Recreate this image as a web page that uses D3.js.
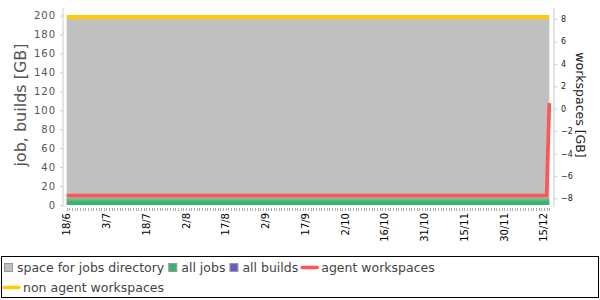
<!DOCTYPE html>
<html>
<head>
<meta charset="utf-8">
<script src="https://cdn.jsdelivr.net/npm/d3@7"></script>
<style>
body { margin: 0; background: #fff; }
text { font-family: "DejaVu Sans", sans-serif; }
</style>
</head>
<body>
<script>
const width = 600;
const height = 300;

// x labels, one every 15 samples
const dateLabels = ["18/6","3/7","18/7","2/8","17/8","2/9","17/9","2/10","16/10","31/10","15/11","30/11","15/12"];
const labelStep = 15;
const sampleCount = 183;

// series as [sample index, GB]
const jobsDirSpace = [[0, 196.3], [182, 196.3]];
const allJobs = [[0, 5.8], [182, 5.8]];
const allBuilds = [[0, 0], [182, 0]];
const agentWorkspaces = [[0, 9.8], [181, 9.8], [182, 107.5]];
const nonAgentWorkspaces = [[0, 198.4], [182, 198.4]];

const leftTicks = [0, 20, 40, 60, 80, 100, 120, 140, 160, 180, 200];
const rightTicks = [-8, -6, -4, -2, 0, 2, 4, 6, 8];

const legendNames = ["space for jobs directory", "all jobs", "all builds", "agent workspaces", "non agent workspaces"];
const legendColors = ["#c0c0c0", "#3cb371", "#6a5acd", "#ff5555", "#ffcc00"];
const legendKinds = ["box", "box", "box", "line", "line"];

const svg = d3.select("body")
    .append("svg")
    .attr("width", width)
    .attr("height", height);

const xScale = d3.scaleLinear()
    .domain([0, sampleCount - 1])
    .range([66.7, 549.3]);

const yLeft = d3.scaleLinear()
    .domain([0, 200])
    .range([205, 15.5]);

const yRight = d3.scaleLinear()
    .domain([-8, 8])
    .range([198.3, 19]);

const plotTop = 8, plotBottom = 207;
const leftX = 63, rightX = 554;

// areas
const area = d3.area()
    .x(d => xScale(d[0]))
    .y0(yLeft(0))
    .y1(d => yLeft(d[1]));

const line = d3.line()
    .x(d => xScale(d[0]))
    .y(d => yLeft(d[1]));

svg.append("path")
    .datum(jobsDirSpace)
    .attr("d", area)
    .attr("fill", "#c0c0c0");

svg.append("path")
    .datum(allJobs)
    .attr("d", area)
    .attr("fill", "#3cb371");

svg.append("path")
    .datum(allJobs)
    .attr("d", line)
    .attr("fill", "none")
    .attr("stroke", "#62c08a")
    .attr("stroke-width", 2.4);

svg.append("path")
    .datum(allBuilds)
    .attr("d", area)
    .attr("fill", "#6a5acd");

// lines
svg.append("path")
    .datum(agentWorkspaces)
    .attr("d", line)
    .attr("fill", "none")
    .attr("stroke", "#ff5555")
    .attr("stroke-width", 3.7);

svg.append("path")
    .datum(nonAgentWorkspaces)
    .attr("d", line)
    .attr("fill", "none")
    .attr("stroke", "#ffcc00")
    .attr("stroke-width", 4);

// axis lines
svg.append("line")
    .attr("x1", leftX).attr("x2", leftX)
    .attr("y1", plotTop).attr("y2", plotBottom)
    .attr("stroke", "#ccc");

svg.append("line")
    .attr("x1", rightX).attr("x2", rightX)
    .attr("y1", plotTop).attr("y2", plotBottom)
    .attr("stroke", "#ccc");

// left axis
const leftAxis = svg.append("g")
    .attr("transform", `translate(${leftX},0)`)
    .call(d3.axisLeft(yLeft).tickValues(leftTicks).tickSize(3).tickPadding(4));
leftAxis.select(".domain").remove();
leftAxis.selectAll(".tick line").attr("stroke", "#ccc");
leftAxis.selectAll(".tick text")
    .attr("font-size", 10)
    .attr("letter-spacing", 1)
    .attr("fill", "#555")
    .attr("font-family", "DejaVu Sans");

// right axis
const rightAxis = svg.append("g")
    .attr("transform", `translate(${rightX},0)`)
    .call(d3.axisRight(yRight).tickValues(rightTicks).tickSize(3).tickPadding(4));
rightAxis.select(".domain").remove();
rightAxis.selectAll(".tick line").attr("stroke", "#ccc");
rightAxis.selectAll(".tick text")
    .attr("font-size", 8)
    .attr("fill", "#222")
    .attr("font-family", "DejaVu Sans");

// x minor ticks, one per sample
svg.append("g")
    .selectAll("line")
    .data(d3.range(sampleCount))
    .join("line")
    .attr("x1", d => Math.round(xScale(d)) + 0.5)
    .attr("x2", d => Math.round(xScale(d)) + 0.5)
    .attr("y1", 208)
    .attr("y2", 211)
    .attr("stroke", "#aaa");

// x labels
svg.append("g")
    .selectAll("text")
    .data(dateLabels)
    .join("text")
    .attr("transform", (d, i) => `translate(${xScale(i * labelStep)},213) rotate(-90)`)
    .attr("text-anchor", "end")
    .attr("dy", "0.35em")
    .attr("font-size", 10)
    .attr("fill", "#000")
    .text(d => d);

// axis titles
svg.append("text")
    .attr("transform", "translate(20,105) rotate(-90)")
    .attr("text-anchor", "middle")
    .attr("dy", "0.35em")
    .attr("font-size", 16)
    .attr("fill", "#555")
    .text("job, builds [GB]");

svg.append("text")
    .attr("transform", "translate(580,105) rotate(90)")
    .attr("text-anchor", "middle")
    .attr("dy", "0.35em")
    .attr("font-size", 12.5)
    .attr("fill", "#222")
    .text("workspaces [GB]");

// legend
const legend = svg.append("g");
legend.append("rect")
    .attr("x", 1.5).attr("y", 256.5)
    .attr("width", 597).attr("height", 41)
    .attr("fill", "#fff")
    .attr("stroke", "#000");

let lx = 3;
let ly = 267.5;
legendNames.forEach((name, i) => {
    const g = legend.append("g");
    const txt = g.append("text")
        .attr("font-size", 12.5)
        .attr("fill", "#444")
        .text(name);
    const swatchW = legendKinds[i] === "box" ? 14 : 20;
    const itemW = swatchW + txt.node().getComputedTextLength();
    if (lx + itemW > 597) {
        lx = 3;
        ly += 20;
    }
    if (legendKinds[i] === "box") {
        g.append("rect")
            .attr("x", lx + 1.5).attr("y", ly - 4)
            .attr("width", 8).attr("height", 8)
            .attr("fill", legendColors[i])
            .attr("stroke", "#999");
    } else {
        g.append("line")
            .attr("x1", lx + 1).attr("x2", lx + 16)
            .attr("y1", ly).attr("y2", ly)
            .attr("stroke", legendColors[i])
            .attr("stroke-width", 3.5)
            .attr("stroke-linecap", "round");
    }
    txt.attr("x", lx + swatchW).attr("y", ly + 4.5);
    lx += itemW + 3;
});
</script>
</body>
</html>
